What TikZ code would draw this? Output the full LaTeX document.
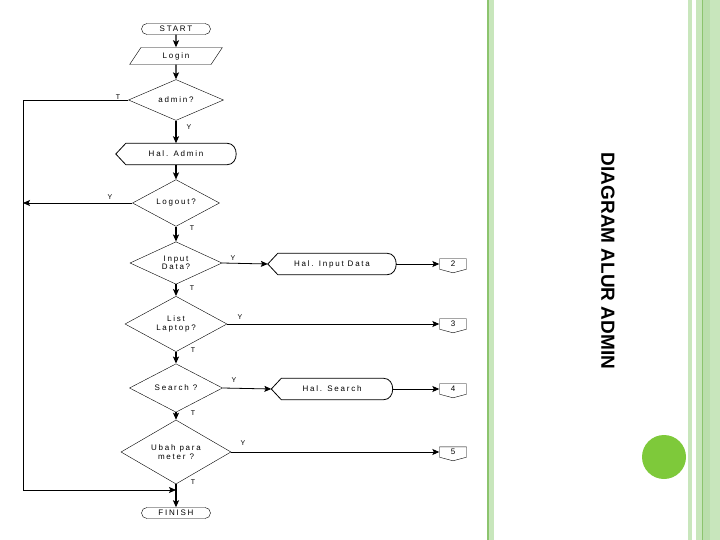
\documentclass[tikz,border=0pt]{standalone}
\usepackage{fontspec}
\setmainfont{Liberation Sans}
\newfontfamily\chartfont[LetterSpace=22]{Liberation Sans}
\usetikzlibrary{arrows.meta,shapes}

\definecolor{lightgreen}{RGB}{200,230,188}
\definecolor{midgreen}{RGB}{186,222,172}
\definecolor{darkgreen}{RGB}{140,196,110}
\definecolor{dotgreen}{RGB}{126,201,58}

\begin{document}
\begin{tikzpicture}[x=1pt,y=-1pt,>={Stealth[length=7pt,width=6pt,inset=1.5pt]},font=\chartfont\fontsize{8}{8.5}\selectfont]
  \tikzset{every node/.style={inner sep=1pt},
    term/.style={rounded rectangle,draw,minimum width=69pt,minimum height=11pt,inner sep=0pt},
    io/.style={trapezium,trapezium left angle=60,trapezium right angle=120,trapezium stretches=true,
      draw,minimum width=93pt,minimum height=17pt,inner sep=0pt},
    decision/.style={diamond,draw,inner sep=0pt,align=center},
    display/.style={minimum height=21pt,inner sep=0pt},
    offpage/.style={signal,signal to=south,signal pointer angle=150,draw,
      minimum width=27pt,minimum height=11pt,inner sep=0pt},
    flow/.style={->,line width=1.3pt},
    branch/.style={->,line width=0.8pt},
    lbl/.style={font=\chartfont\fontsize{7}{7}\selectfont}}
  \useasboundingbox (0,0) rectangle (720,540);
  % slide border
  \fill[lightgreen] (486.5,0) rectangle (494,540);
  \fill[darkgreen] (486.5,0) rectangle (489,540);
  \fill[lightgreen] (688,0) rectangle (692,540);
  \fill[lightgreen] (696,0) rectangle (720,540);
  \fill[midgreen] (703,0) rectangle (710,540);
  \fill[darkgreen] (702,0) rectangle (703.2,540);
  \fill[dotgreen] (664,457) circle (22);
  \node[rotate=-90,font=\bfseries\fontsize{19}{19}\selectfont] (title) at (608,261) {DIAGRAM ALUR ADMIN};

  % main column
  \node[term]     (start)     at (176,29)  {START};
  \node[io]       (login)     at (176,56)  {Login};
  \node[decision,minimum width=95pt,minimum height=40pt]  (admin)  at (176,100) {admin?};
  \node[display,minimum width=120pt] (haladmin) at (176,154) {Hal. Admin};
  \node[decision,minimum width=87pt,minimum height=40pt]  (logout) at (176,203) {Logout?};
  \node[decision,minimum width=92pt,minimum height=40pt]  (input)  at (176,263) {Input\\Data?};
  \node[display,minimum width=128pt] (halinput) at (332,264) {Hal. Input Data};
  \node[offpage]  (conn2)     at (453,264) {2};
  \node[decision,minimum width=102pt,minimum height=45pt] (list)   at (176,324) {List\\Laptop?};
  \node[offpage]  (conn3)     at (453,324) {3};
  \node[decision,minimum width=93pt,minimum height=42pt]  (search) at (176,388) {Search ?};
  \node[display,minimum width=121pt] (halsearch) at (332,389) {Hal. Search};
  \node[offpage]  (conn4)     at (453,389) {4};
  \node[decision,minimum width=110pt,minimum height=49pt] (ubah)   at (176,452) {Ubah para\\meter ?};
  \node[offpage]  (conn5)     at (453,452) {5};
  \node[term]     (finish)    at (176,513) {FINISH};
  \coordinate (back) at (23,490);
  \coordinate (join) at (176,490);

  % display outlines
  \foreach \n in {haladmin,halinput,halsearch}
    \draw[line width=0.8pt] (\n.west) -- ([xshift=10]\n.north west) -- ([xshift=-9]\n.north east)
      .. controls +(12,0) and +(12,0) .. ([xshift=-9]\n.south east) -- ([xshift=10]\n.south west) -- cycle;

  % flow
  \draw[flow] (start) -- (login);
  \draw[flow] (login) -- (admin);
  \draw[flow] (admin) -- (haladmin);
  \draw[flow] (haladmin) -- (logout);
  \draw[flow] (logout) -- (input);
  \draw[flow] (input) -- (list);
  \draw[flow] (list) -- (search);
  \draw[flow] (search) -- (ubah);
  \draw[flow] (ubah) -- (finish);
  \draw[branch] (admin.west) -| (back) -- (join);
  \draw[branch] (logout.west) -- (logout.west -| back);
  \draw[branch] (input.east) -- (halinput.west);
  \draw[branch] (halinput.east) -- (conn2.west);
  \draw[branch] (list.east) -- (conn3.west);
  \draw[branch] (search.east) -- (halsearch.west);
  \draw[branch] (halsearch.east) -- (conn4.west);
  \draw[branch] (ubah.east) -- (conn5.west);

  % branch labels
  \node[lbl] (tadmin)  at (118,97)  {T};
  \node[lbl] (yadmin)  at (189,127) {Y};
  \node[lbl] (ylogout) at (110,197) {Y};
  \node[lbl] (tlogout) at (192,228) {T};
  \node[lbl] (yinput)  at (233,258) {Y};
  \node[lbl] (tinput)  at (192,288) {T};
  \node[lbl] (ylist)   at (240,317) {Y};
  \node[lbl] (tlist)   at (193,350) {T};
  \node[lbl] (ysearch) at (234,380) {Y};
  \node[lbl] (tsearch) at (193,413) {T};
  \node[lbl] (yubah)   at (243,443) {Y};
  \node[lbl] (tubah)   at (193,482) {T};
\end{tikzpicture}
\end{document}
